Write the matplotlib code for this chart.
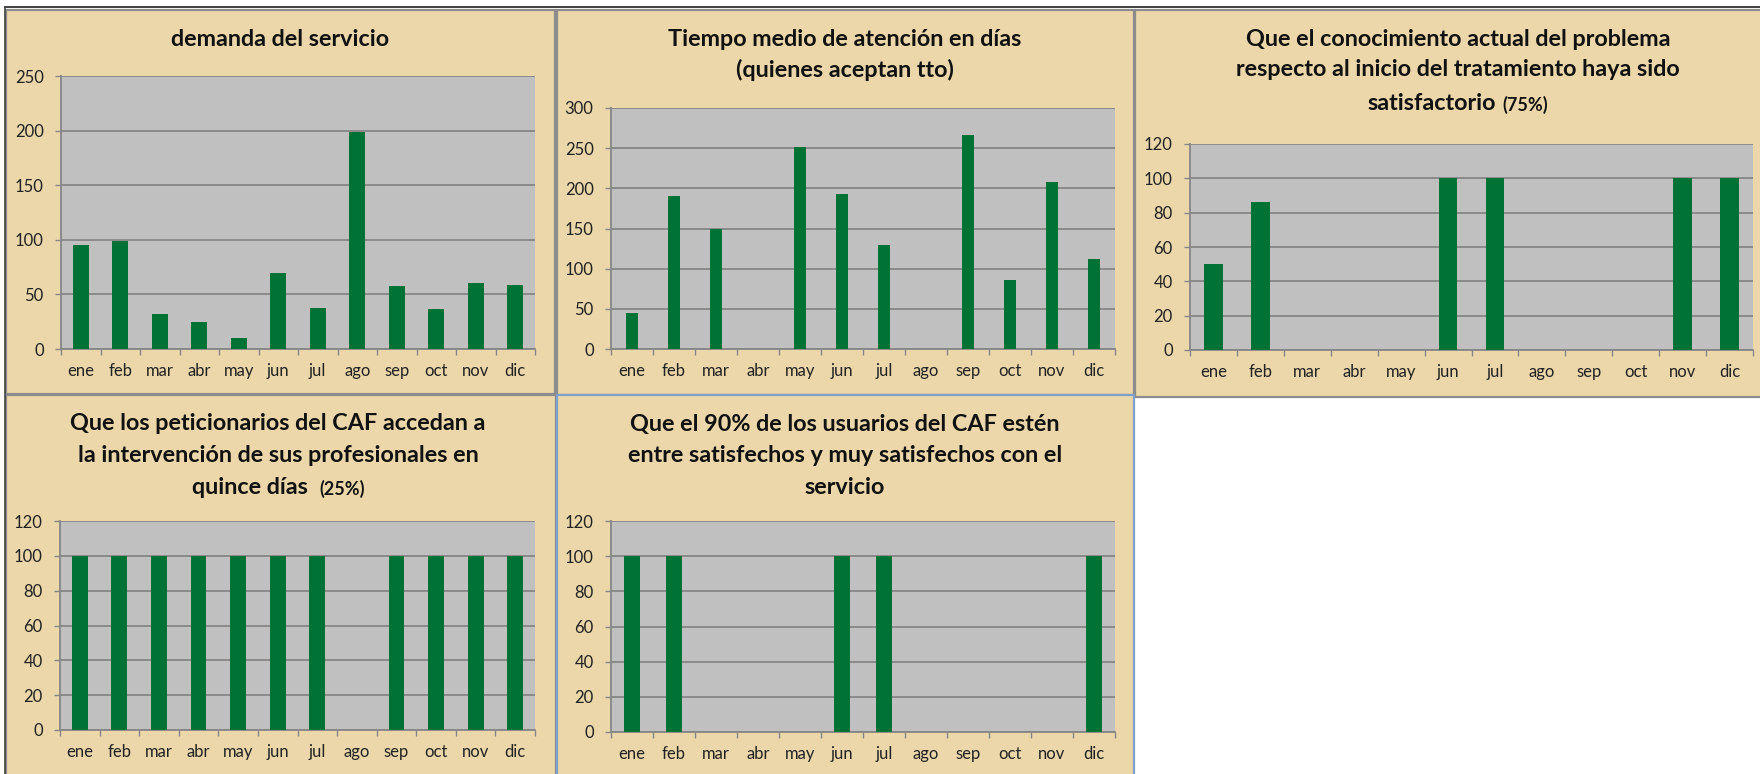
"""
Panel de indicadores mensuales del CAF: cinco gráficos de barras en rejilla
2 + 3, estilo hoja de cálculo (fondo tostado, área de trazado gris, barras verdes).
"""

import matplotlib

matplotlib.use("Agg")
import matplotlib.pyplot as plt
from matplotlib.lines import Line2D
from matplotlib.patches import Rectangle

plt.rcParams["font.family"] = ["Lato", "DejaVu Sans"]

# -----------------------------------------------------------------------------
# Datos
# -----------------------------------------------------------------------------

MESES = ["ene", "feb", "mar", "abr", "may", "jun", "jul", "ago", "sep", "oct", "nov", "dic"]

DEMANDA = [95, 99, 32, 25, 10, 70, 38, 199, 58, 37, 60, 59]
TIEMPO_MEDIO = [45, 190, 149, 0, 252, 193, 130, 0, 267, 86, 208, 112]
CONOCIMIENTO = [50, 86, 0, 0, 0, 100, 100, 0, 0, 0, 100, 100]
ACCESO_QUINCE_DIAS = [100, 100, 100, 100, 100, 100, 100, 0, 100, 100, 100, 100]
SATISFACCION = [100, 100, 0, 0, 0, 100, 100, 0, 0, 0, 0, 100]

# -----------------------------------------------------------------------------
# Constantes visuales
# -----------------------------------------------------------------------------

W_PX, H_PX = 1760, 774
DPI = 100

PANEL_BG = "#ebd7a9"
PLOT_BG = "#c0c0c0"
BAR_GREEN = "#007236"
GRID_GRAY = "#868686"
BORDER_GRAY = "#8c8c8c"
BORDER_BLUE = "#7f9fcd"
TEXT = "#111111"
TICK_TEXT = "#222222"

TITLE_FS = 16.8
SUFFIX_FS = 13
TICK_FS = 12


def box(x0, y0, x1, y1):
    """Caja en píxeles (origen arriba a la izquierda) -> fracción de figura."""
    return [x0 / W_PX, 1 - y1 / H_PX, (x1 - x0) / W_PX, (y1 - y0) / H_PX]


# Cada panel: rectángulo del panel, área de trazado, datos, escala y título.
PANELS = [
    dict(panel=(6, 10, 555, 394), plot=(61, 76, 535, 349), values=DEMANDA,
         ymax=250, step=50, width=0.41, edge=BORDER_GRAY, cx=280,
         lines=[("demanda del servicio", 40)], suffix=None),
    dict(panel=(557, 10, 1134, 395), plot=(611, 108, 1115, 349), values=TIEMPO_MEDIO,
         ymax=300, step=50, width=0.28, edge=BORDER_GRAY, cx=845,
         lines=[("Tiempo medio de atención en días", 40), ("(quienes aceptan tto)", 70)],
         suffix=None),
    dict(panel=(1135, 10, 1762, 397), plot=(1190, 144, 1753, 350), values=CONOCIMIENTO,
         ymax=120, step=20, width=0.40, edge=BORDER_GRAY, cx=1458,
         lines=[("Que el conocimiento actual del problema", 40),
                ("respecto al inicio del tratamiento haya sido", 70),
                ("satisfactorio", 103)],
         suffix="(75%)"),
    dict(panel=(6, 395, 556, 776), plot=(60, 521, 535, 730), values=ACCESO_QUINCE_DIAS,
         ymax=120, step=20, width=0.40, edge=BORDER_GRAY, cx=278,
         lines=[("Que los peticionarios del CAF accedan a", 424),
                ("la intervención de sus profesionales en", 455),
                ("quince días ", 487)],
         suffix="(25%)"),
    dict(panel=(557, 395, 1134, 776), plot=(611, 521, 1115, 732), values=SATISFACCION,
         ymax=120, step=20, width=0.39, edge=BORDER_BLUE, cx=845,
         lines=[("Que el 90% de los usuarios del CAF estén", 424),
                ("entre satisfechos y muy satisfechos con el", 455),
                ("servicio", 487)],
         suffix=None),
]


def draw_title(fig, renderer, spec):
    cx = spec["cx"]
    for i, (line, y) in enumerate(spec["lines"]):
        yf = 1 - y / H_PX
        last = i == len(spec["lines"]) - 1
        if last and spec["suffix"]:
            main = fig.text(0, yf, line, fontsize=TITLE_FS, fontweight="bold",
                            color=TEXT, ha="left", va="center", zorder=5)
            suf = fig.text(0, yf, spec["suffix"], fontsize=SUFFIX_FS, fontweight="bold",
                           color=TEXT, ha="left", va="center", zorder=5)
            w_main = main.get_window_extent(renderer).width
            w_suf = suf.get_window_extent(renderer).width
            gap = 6
            x0 = cx - (w_main + gap + w_suf) / 2
            main.set_x(x0 / W_PX)
            suf.set_x((x0 + w_main + gap) / W_PX)
            suf.set_y(yf - 1.5 / H_PX)
        else:
            fig.text(cx / W_PX, yf, line, fontsize=TITLE_FS, fontweight="bold",
                     color=TEXT, ha="center", va="center", zorder=5)


def draw_panel(fig, spec):
    x0, y0, x1, y1 = spec["panel"]
    fig.patches.append(Rectangle((x0 / W_PX, 1 - y1 / H_PX), (x1 - x0) / W_PX, (y1 - y0) / H_PX,
                                 transform=fig.transFigure, facecolor=PANEL_BG,
                                 edgecolor=spec["edge"], linewidth=1.6, zorder=-1))

    ax = fig.add_axes(box(*spec["plot"]))
    ax.set_zorder(2)
    ax.set_facecolor(PLOT_BG)
    n = len(MESES)
    centers = list(range(n))
    ax.bar(centers, spec["values"], width=spec["width"], color=BAR_GREEN, linewidth=0, zorder=3)

    ax.set_xlim(-0.5, n - 0.5)
    ax.set_ylim(0, spec["ymax"])
    ax.set_yticks(range(0, spec["ymax"] + 1, spec["step"]))
    ax.yaxis.grid(True, color=GRID_GRAY, linewidth=1.3, zorder=1)
    ax.set_axisbelow(True)

    # Marcas en los límites de categoría, etiquetas en el centro.
    ax.set_xticks([i - 0.5 for i in range(n + 1)])
    ax.set_xticklabels([])
    ax.set_xticks(centers, minor=True)
    ax.set_xticklabels(MESES, minor=True)
    ax.tick_params(axis="x", which="major", direction="out", length=4, width=1.0, color=GRID_GRAY)
    ax.tick_params(axis="x", which="minor", length=0, pad=10, labelsize=TICK_FS, labelcolor=TICK_TEXT)
    ax.tick_params(axis="y", direction="out", length=4.5, width=1.0, color=GRID_GRAY,
                   pad=8, labelsize=TICK_FS, labelcolor=TICK_TEXT)

    for side in ("top", "right"):
        ax.spines[side].set_visible(False)
    for side in ("left", "bottom"):
        ax.spines[side].set_color(GRID_GRAY)
        ax.spines[side].set_linewidth(1.3)
    return ax


def main():
    fig = plt.figure(figsize=(W_PX / DPI, H_PX / DPI), dpi=DPI)
    fig.patch.set_facecolor("white")
    renderer = fig.canvas.get_renderer()

    for spec in PANELS:
        draw_panel(fig, spec)
        draw_title(fig, renderer, spec)

    # Marco exterior oscuro (arriba e izquierda).
    fig.lines.append(Line2D([5 / W_PX, 1], [1 - 7 / H_PX] * 2, transform=fig.transFigure,
                            color="#222222", linewidth=1.2, zorder=6))
    fig.lines.append(Line2D([5 / W_PX] * 2, [1 - 7 / H_PX, 0], transform=fig.transFigure,
                            color="#444444", linewidth=1.2, zorder=6))

    fig.savefig("out.png", dpi=DPI, facecolor="white")
    plt.close(fig)


if __name__ == "__main__":
    main()
